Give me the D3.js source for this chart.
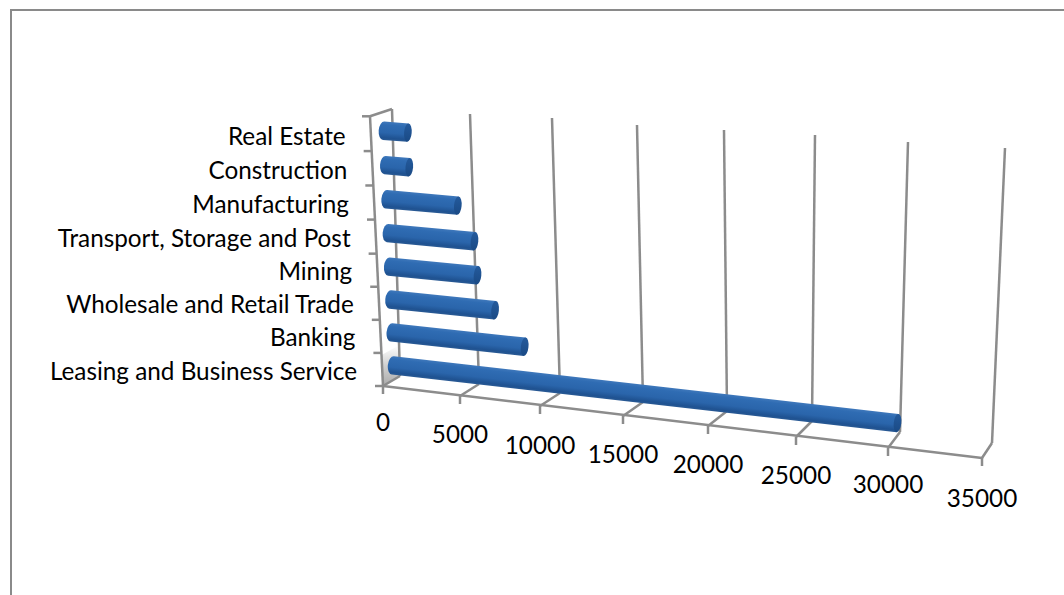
<!DOCTYPE html>
<html><head><meta charset="utf-8">
<script src="https://cdnjs.cloudflare.com/ajax/libs/d3/7.8.5/d3.min.js"></script>
<style>html,body{margin:0;padding:0;background:#fff;overflow:hidden}text{font-family:Lato,"Open Sans",sans-serif;fill:#000}</style>
</head><body><svg id="c" width="1064" height="595"></svg>
<script>
const categories=["Leasing and Business Service","Banking","Wholesale and Retail Trade","Mining","Transport, Storage and Post","Manufacturing","Construction","Real Estate"];
const values=[30170,8550,6800,5800,5700,4750,1700,1700];
const tickValues=[0,5000,10000,15000,20000,25000,30000,35000];

// perspective anchors of the 3D box, one per tick
const frontX=d3.scaleLinear().domain(tickValues).range([383,460,540,623,708,796,888,982]);
const frontY=d3.scaleLinear().domain(tickValues).range([386,396,406,416,426,437,448,458]);
const backX=d3.scaleLinear().domain(tickValues).range([400,479,560,643,727,812,900,992]);
const backY=d3.scaleLinear().domain(tickValues).range([376,384,393,402,411,421,432,443]);
const topX=d3.scaleLinear().domain(tickValues).range([392,470,552,637,724,815,908,1005]);
const topY=d3.scaleLinear().domain(tickValues).range([109,114,118,125,130,135,142,148]);
const heightScale=d3.scaleLinear().domain(d3.range(categories.length+1)).range([0,.1227,.2454,.368,.4907,.617,.7435,.871,1]);
const valueLabelDrop=d3.scaleOrdinal().domain(tickValues).range([45,47,48,47,47,47,45,49]);
const lerp=d3.interpolateNumber;
function P(v,h,w){ // w: 0 back,1 front
  const bx=lerp(backX(v),topX(v))(h),by=lerp(backY(v),topY(v))(h);
  const dx0=frontX(v)-backX(v),dy0=frontY(v)-backY(v);
  const dx=lerp(dx0,dx0-5)(h),dy=lerp(dy0,dy0-2.7)(h);
  return [bx+dx*w,by+dy*w];
}
const svg=d3.select("#c");
const defs=svg.append("defs");
const grad=defs.append("linearGradient").attr("id","body").attr("x1",0).attr("y1",0).attr("x2",0).attr("y2",1);
[[0,"#3f78bb"],[.18,"#2f6cb3"],[.6,"#2a65ab"],[.88,"#1f5291"],[1,"#2a5a94"]].forEach(s=>grad.append("stop").attr("offset",s[0]).attr("stop-color",s[1]));
const capG=defs.append("linearGradient").attr("id","cap").attr("x1",0).attr("y1",0).attr("x2",0).attr("y2",1);
[[0,"#245a9c"],[1,"#1a4a85"]].forEach(s=>capG.append("stop").attr("offset",s[0]).attr("stop-color",s[1]));
const shade=defs.append("linearGradient").attr("id","shade").attr("x1",0).attr("y1",1).attr("x2",0).attr("y2",0);
[[0,"#aaaaaa"],[.5,"#d0d0d0"],[1,"#ffffff"]].forEach(s=>shade.append("stop").attr("offset",s[0]).attr("stop-color",s[1]));
defs.append("filter").attr("id","soft").append("feGaussianBlur").attr("stdDeviation",0.45);

const GRID="#8c8c8c";
// outer frame
svg.append("path").attr("d","M11,595V10H1064").attr("fill","none").attr("stroke","#8a8a8a").attr("stroke-width",2);

const g=svg.append("g").attr("filter","url(#soft)");
// side-wall shadow
const s0=P(0,0,1),s1=P(0,0,0),s2=P(0,.115,0),s3=P(0,.115,1);
g.append("path").attr("d",d3.line()([s0,s1,s2,s3])+"Z").attr("fill","url(#shade)");
const line=(a,b)=>g.append("line").attr("x1",a[0]).attr("y1",a[1]).attr("x2",b[0]).attr("y2",b[1]).attr("stroke",GRID).attr("stroke-width",2.5);
// gridlines: floor depth + wall height
tickValues.forEach(v=>{
  line(P(v,0,1),P(v,0,0));
  line(P(v,0,0),P(v,1,0));
  const f=P(v,0,1);
  line(f,[f[0],f[1]+8]);
});
// axes
line(P(0,0,1),P(35000,0,1));
line(P(0,0,1),P(0,1,1));
line(P(0,1,1),P(0,1,0));
d3.range(categories.length+1).forEach(i=>{
  const p=P(0,heightScale(i),1);
  line(p,[p[0]-8,p[1]]);
});
// bars
const R=9.2;
const bars=svg.selectAll("g.bar").data(values).join("g").attr("class","bar").attr("transform",(v,i)=>{
  const h=heightScale(i+.5),a=P(0,h,.5),b=P(v,h,.5);
  return `translate(${a[0]},${a[1]+.6}) rotate(${Math.atan2(b[1]-a[1],b[0]-a[0])*180/Math.PI})`;
});
const len=(v,i)=>{const h=heightScale(i+.5),a=P(0,h,.5),b=P(v,h,.5);return Math.hypot(b[0]-a[0],b[1]-a[1]);};
bars.append("path").attr("d",(v,i)=>{const L=len(v,i);
  return `M${L},${-R}H2A5,${R} 0 0 0 2,${R}H${L}Z`;}).attr("fill","url(#body)");
bars.append("ellipse").attr("cx",(v,i)=>len(v,i)).attr("cy",0).attr("rx",3.8).attr("ry",R).attr("fill","url(#cap)");
// category labels
svg.selectAll("text.cat").data(categories).join("text").attr("class","cat")
  .attr("text-anchor","end").attr("font-size",24.3)
  .attr("x",(d,i)=>P(0,heightScale(i),1)[0]-26)
  .attr("y",(d,i)=>P(0,heightScale(i),1)[1]-6.5)
  .text(d=>d);
// value labels
svg.selectAll("text.val").data(tickValues).join("text").attr("class","val")
  .attr("text-anchor","middle").attr("font-size",24.3)
  .attr("x",v=>frontX(v))
  .attr("y",v=>frontY(v)+valueLabelDrop(v))
  .text(d=>d);
</script></body></html>
